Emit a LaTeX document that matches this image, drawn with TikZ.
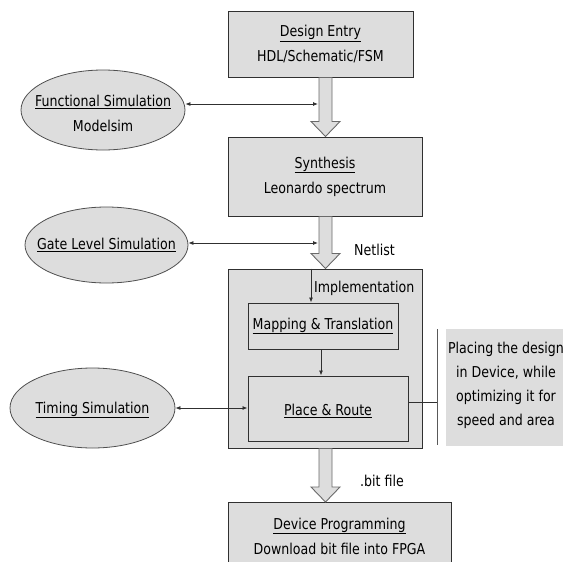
\documentclass[tikz,border=0pt]{standalone}
\usepackage{fontspec}
\setmainfont[FakeStretch=0.84]{DejaVu Sans}
\usetikzlibrary{shapes.geometric,arrows.meta,calc}
\definecolor{boxfill}{HTML}{DDDDDD}
\definecolor{edge}{HTML}{303030}
\definecolor{arredge}{HTML}{6A6A6A}
\begin{document}
\begin{tikzpicture}[x=1pt,y=-1pt,
  font=\fontsize{15}{25}\selectfont,
  box/.style={draw=edge, line width=1pt, fill=boxfill, rectangle, inner sep=0pt, align=center},
  sim/.style={draw=edge!85, line width=0.8pt, fill=boxfill, ellipse, inner sep=0pt},
  txt/.style={inner sep=0pt, align=center},
  blockarrow/.style={draw=arredge, fill=boxfill, line width=0.9pt, line join=miter},
  thinarrow/.style={draw=edge, line width=0.8pt, -{Latex[length=5pt,width=4pt]}},
  dbl/.style={draw=edge, line width=0.8pt, {Latex[length=5pt,width=4pt]}-{Latex[length=5pt,width=4pt]}},
  plain/.style={draw=edge, line width=0.8pt}
]
\useasboundingbox (0,0) rectangle (563,562);

% main boxes
\node[box, minimum width=185pt, minimum height=66pt] (entry) at (320.5,44) {\underline{Design Entry}\\HDL/Schematic/FSM};
\node[box, minimum width=194pt, minimum height=79pt] (synth) at (325,176.5) {\underline{Synthesis}\\Leonardo spectrum};
\node[box, minimum width=194pt, minimum height=179pt] (impl) at (325,358.5) {};
\node[box, minimum width=150pt, minimum height=46pt] (map) at (323,326) {\underline{Mapping \& Translation}};
\node[box, minimum width=160pt, minimum height=65pt] (pr) at (328,408.5) {};
\node[txt] (prt) at (328,411) {\underline{Place \& Route}};
\node[box, minimum width=223pt, minimum height=80pt, anchor=north] (dev) at (339.5,502) {};
\node[txt] (devt) at (339.5,536) {\underline{Device Programming}\\Download bit file into FPGA};

% simulation ellipses
\node[sim, minimum width=164pt, minimum height=80pt] (func) at (103,110) {};
\node[txt] (funct) at (103,113) {\underline{Functional Simulation}\\Modelsim};
\node[sim, minimum width=163pt, minimum height=76pt] (gate) at (106.5,245) {};
\node[txt] (gatet) at (106.5,245) {\underline{Gate Level Simulation}};
\node[sim, minimum width=165pt, minimum height=80pt] (timing) at (92.5,408) {};
\node[txt] (timingt) at (92.5,410) {\underline{Timing Simulation}};

% note box
\node[fill=boxfill, inner sep=0pt, minimum width=160pt, minimum height=117pt, anchor=north west] (note) at (446,329) {};
\node[txt, font=\fontsize{15}{24}\selectfont] (notet) at (506,385) {Placing the design\\in Device, while\\optimizing it for\\speed and area};

% labels
\node[txt, anchor=west] (netlist) at (354,250) {Netlist};
\node[txt, anchor=west] (bitfile) at (360,481) {.bit file};
\node[txt, anchor=west] (impllab) at (314,288) {Implementation};

% block arrows
\draw[blockarrow] let \p1=(entry.south), \p2=(synth.north) in
  (319pt,\y1) -- (319pt,{\y2+15pt}) -- (311pt,{\y2+15pt}) -- (325.5pt,\y2)
  -- (340pt,{\y2+15pt}) -- (332pt,{\y2+15pt}) -- (332pt,\y1) -- cycle;
\draw[blockarrow] let \p1=(synth.south), \p2=(impl.north) in
  (319pt,\y1) -- (319pt,{\y2+15pt}) -- (311pt,{\y2+15pt}) -- (325.5pt,\y2)
  -- (340pt,{\y2+15pt}) -- (332pt,{\y2+15pt}) -- (332pt,\y1) -- cycle;
\draw[blockarrow] let \p1=(impl.south), \p2=(dev.north) in
  (319pt,\y1) -- (319pt,{\y2+15pt}) -- (311pt,{\y2+15pt}) -- (325.5pt,\y2)
  -- (340pt,{\y2+15pt}) -- (332pt,{\y2+15pt}) -- (332pt,\y1) -- cycle;

% thin arrows inside implementation
\coordinate (ix) at (311,0);
\coordinate (mx) at (321,0);
\draw[thinarrow] (impl.north -| ix) -- (map.north -| ix);
\draw[thinarrow] (map.south -| mx) -- (pr.north -| mx);

% simulation connectors
\coordinate (fa) at (318,104);
\coordinate (ga) at (318,243);
\draw[dbl] (func.east |- fa) -- (fa);
\draw[dbl] (gate.east |- ga) -- (ga);
\draw[dbl] (timing.east) -- (timing.east -| pr.west);

% note bracket
\coordinate (brk) at (437,402);
\coordinate (brtop) at (437,329);
\coordinate (brbot) at (437,445);
\draw[plain] (pr.east |- brk) -- (brk);
\draw[draw=edge!80, line width=0.8pt] (brtop) -- (brbot);
\end{tikzpicture}
\end{document}
